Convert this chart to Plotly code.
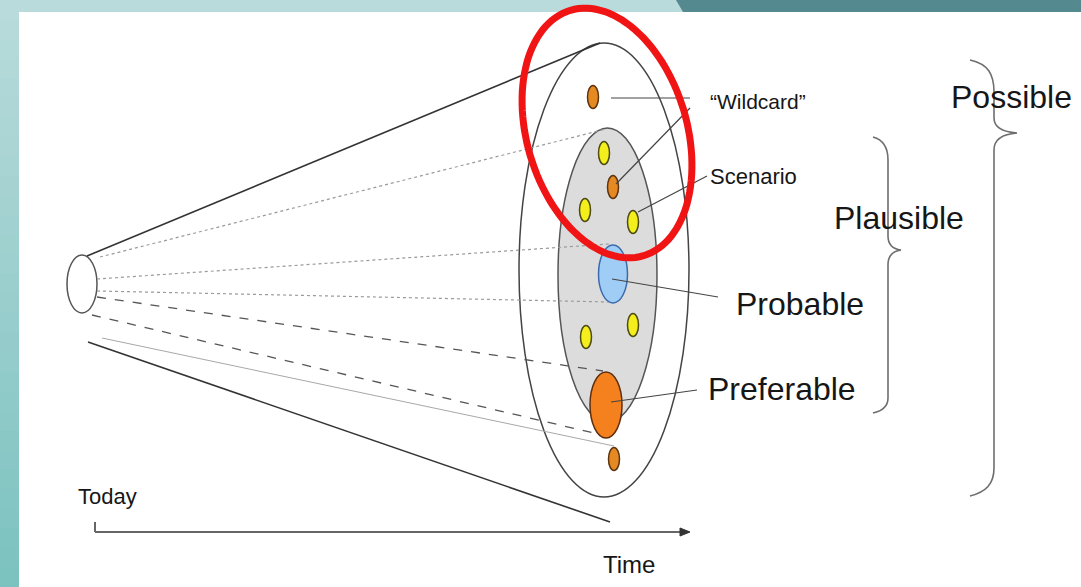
import numpy as np
import plotly.graph_objects as go

W, H = 1081, 587

# ---- diagram content (pixel-space geometry) ----
label_text = ["“Wildcard”", "Scenario", "Probable", "Preferable", "Plausible", "Possible", "Today", "Time"]
label_x = [708, 708, 734, 706, 832, 949, 76, 601]
label_y = [101, 176, 304, 389, 218, 97, 496, 564]
label_size = [21, 22, 32, 32, 32, 32, 22, 24]

# cone rays from "today" to the future ellipse: x0, y0, x1, y1, style
ray_x0 = [87, 100, 97, 97, 97, 92, 102, 88]
ray_y0 = [256, 257, 279, 291, 297, 315, 338, 342]
ray_x1 = [600, 606, 609, 609, 603, 598, 614, 610]
ray_y1 = [43, 129, 244, 302, 371, 434, 446, 522]
ray_style = ["solid", "dot", "dot", "dot", "dash", "dash", "thin", "solid"]

# callout lines
call_x0 = [611, 616, 638, 612, 611]
call_y0 = [98, 184, 212, 279, 402]
call_x1 = [690, 690, 707, 718, 697]
call_y1 = [98, 108, 176, 297, 390]

# scenario dots: centre x, centre y, radius x, radius y, kind
dot_cx = [593, 604, 613, 585, 633, 633, 586, 614, 613, 606]
dot_cy = [97, 153, 187, 210, 222, 325, 337, 459, 274, 405]
dot_rx = [5.5, 5.5, 5.5, 5.5, 5.5, 5.5, 5.5, 5.5, 14.5, 16]
dot_ry = [11.5, 11.5, 11.5, 11.5, 11.5, 11.5, 11.5, 11.5, 29, 33]
dot_kind = ["wild", "scen", "wild", "scen", "scen", "scen", "scen", "wild", "prob", "pref"]

kind_fill = {"wild": "#e58a22", "scen": "#f3ee1c", "prob": "#9fcdf5", "pref": "#f4801e"}
kind_line = {"wild": "#5e3410", "scen": "#4d4a12", "prob": "#3b6aae", "pref": "#5e2e0e"}

fig = go.Figure()
fig.add_trace(go.Scatter(x=[0, W], y=[0, H], mode="markers",
                         marker=dict(opacity=0), hoverinfo="skip", showlegend=False))

shapes = []

# background frame: gradient left strip and top band
n_strip = 30
c_top = np.array([0xb9, 0xdb, 0xdb])
c_bot = np.array([0x7c, 0xc3, 0xc0])
for i in range(n_strip):
    f = i / (n_strip - 1)
    c = (c_top * (1 - f) + c_bot * f).astype(int)
    shapes.append(dict(type="rect", x0=0, x1=19, y0=i * H / n_strip, y1=(i + 1) * H / n_strip + 1,
                       fillcolor="rgb(%d,%d,%d)" % tuple(c), line=dict(width=0), layer="below"))
shapes.append(dict(type="rect", x0=0, x1=684, y0=0, y1=12, fillcolor="#b9dbdb",
                   line=dict(width=0), layer="below"))
shapes.append(dict(type="path", path="M 676,0 L 1081,0 L 1081,12 L 683,12 Z",
                   fillcolor="#548a8f", line=dict(width=0), layer="below"))

# outer "possible" ellipse and inner grey "plausible" ellipse
shapes.append(dict(type="circle", x0=519, x1=689, y0=43, y1=497,
                   fillcolor="rgba(0,0,0,0)", line=dict(color="#444", width=1.5)))
shapes.append(dict(type="circle", x0=558, x1=657, y0=128, y1=422,
                   fillcolor="#dcdcdc", line=dict(color="#555", width=1.5)))

# "today" ellipse
shapes.append(dict(type="circle", x0=67, x1=97, y0=255, y1=313,
                   fillcolor="white", line=dict(color="#555", width=1.5)))

style_map = {
    "solid": dict(color="#333", width=1.6),
    "dot": dict(color="#9a9a9a", width=1.2, dash="dot"),
    "dash": dict(color="#555", width=1.3, dash="dash"),
    "thin": dict(color="#a8a8a8", width=1.0),
}
for x0, y0, x1, y1, s in zip(ray_x0, ray_y0, ray_x1, ray_y1, ray_style):
    shapes.append(dict(type="line", x0=x0, y0=y0, x1=x1, y1=y1, line=style_map[s]))

for cx, cy, rx, ry, k in zip(dot_cx, dot_cy, dot_rx, dot_ry, dot_kind):
    shapes.append(dict(type="circle", x0=cx - rx, x1=cx + rx, y0=cy - ry, y1=cy + ry,
                       fillcolor=kind_fill[k], line=dict(color=kind_line[k], width=1.5)))

for x0, y0, x1, y1 in zip(call_x0, call_y0, call_x1, call_y1):
    shapes.append(dict(type="line", x0=x0, y0=y0, x1=x1, y1=y1, line=dict(color="#444", width=1.2)))

# braces
shapes.append(dict(type="path",
                   path="M 970,60 C 988,64 994,74 994,92 L 994,118 C 994,128 1004,132 1017,133 "
                        "C 1004,134 994,139 994,150 L 994,468 C 994,484 986,492 970,496",
                   line=dict(color="#6e6e6e", width=1.6)))
shapes.append(dict(type="path",
                   path="M 873,137 C 884,140 888,148 888,160 L 888,236 C 888,245 893,249 901,250 "
                        "C 893,251 888,255 888,265 L 888,398 C 888,406 882,411 873,413",
                   line=dict(color="#6e6e6e", width=1.6)))

# time axis
shapes.append(dict(type="line", x0=95, y0=522, x1=95, y1=532, line=dict(color="#666", width=2)))
shapes.append(dict(type="line", x0=95, y0=532, x1=682, y1=532, line=dict(color="#666", width=2)))
shapes.append(dict(type="path", path="M 680,528 L 690,532 L 680,536 Z",
                   fillcolor="#333", line=dict(color="#333", width=1)))

# red highlight ellipse (rotated)
rc_x, rc_y, ra, rb, phi = 607, 133, 128, 80, np.deg2rad(16.6)
t = np.linspace(0, 2 * np.pi, 121)
ex = rc_x + rb * np.cos(t) * np.cos(phi) + ra * np.sin(t) * np.sin(phi)
ey = rc_y - rb * np.cos(t) * np.sin(phi) + ra * np.sin(t) * np.cos(phi)
red_path = "M " + " L ".join("%.1f,%.1f" % (a, b) for a, b in zip(ex, ey)) + " Z"
shapes.append(dict(type="path", path=red_path, line=dict(color="#f01414", width=7)))

annotations = []
for txt, x, y, s in zip(label_text, label_x, label_y, label_size):
    annotations.append(dict(x=x, y=y, text=txt, showarrow=False, xanchor="left", yanchor="middle",
                            font=dict(family="Liberation Sans, Arial, sans-serif", size=s, color="#161616")))

fig.update_layout(
    width=W, height=H, margin=dict(l=0, r=0, t=0, b=0),
    paper_bgcolor="white", plot_bgcolor="white",
    xaxis=dict(range=[0, W], visible=False, fixedrange=True),
    yaxis=dict(range=[H, 0], visible=False, fixedrange=True),
    shapes=shapes, annotations=annotations, showlegend=False,
)
fig.write_html("out.html", config={"displayModeBar": False},
               post_script="document.body.style.margin='0';document.body.style.overflow='hidden';")
